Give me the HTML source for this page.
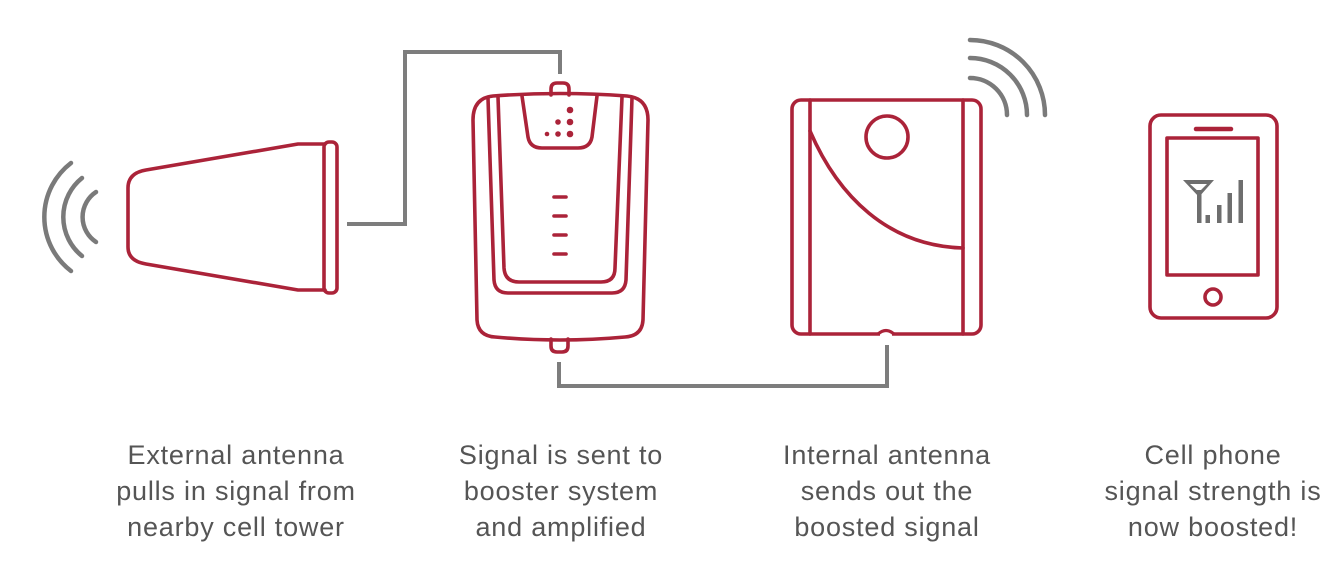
<!DOCTYPE html>
<html>
<head>
<meta charset="utf-8">
<style>
  html, body { margin: 0; padding: 0; background: #ffffff; }
  body { width: 1344px; height: 566px; overflow: hidden; }
  svg { display: block; }
  text { font-family: "Liberation Sans", Arial, sans-serif; font-size: 27px; fill: #555555; letter-spacing: 0.8px; }
</style>
</head>
<body>
<svg width="1344" height="566" viewBox="0 0 1344 566" xmlns="http://www.w3.org/2000/svg">
  <rect x="0" y="0" width="1344" height="566" fill="#ffffff"/>

  <!-- Gray connector wires -->
  <g fill="none" stroke="#7d7d7d" stroke-width="4" stroke-linejoin="miter">
    <polyline points="347,224 405,224 405,52 560,52 560,74"/>
    <polyline points="559,362 559,386 887,386 887,345"/>
  </g>

  <!-- Left signal arcs -->
  <g fill="none" stroke="#7a7a7a" stroke-width="4.5" stroke-linecap="round">
    <path d="M71 163 A68 68 0 0 0 71 271"/>
    <path d="M82 178 A50 50 0 0 0 82 256"/>
    <path d="M96 192 A30 30 0 0 0 96 242"/>
  </g>

  <!-- Right signal arcs -->
  <g fill="none" stroke="#7a7a7a" stroke-width="4.5" stroke-linecap="round">
    <path d="M970 40 A75 75 0 0 1 1045 115"/>
    <path d="M970 58 A57 57 0 0 1 1027 115"/>
    <path d="M970 78 A37 37 0 0 1 1007 115"/>
  </g>

  <g fill="none" stroke="#ab2339" stroke-width="3.6" stroke-linecap="round" stroke-linejoin="round">
    <!-- External antenna cone -->
    <path d="M325 144 L298 144 L146 170 Q128 173 128 188 L128 247 Q128 261 146 264 L298 290 L325 290"/>
    <rect x="324" y="142" width="13" height="151" rx="5" ry="5"/>

    <!-- Booster body -->
    <path d="M493 96 Q560 91 627 96 Q648 98 648 120 L643 320 Q642 336 625 337 Q560 343 495 337 Q478 336 477 320 L473 120 Q473 98 493 96 Z"/>
    <!-- top tab -->
    <path d="M551 95 L551 89 Q551 83 557 83 L563 83 Q569 83 569 89 L569 95"/>
    <!-- bottom tab -->
    <path d="M551 339 L551 346 Q551 352 557 352 L562 352 Q568 352 568 346 L568 339"/>
    <!-- outer U -->
    <path d="M488 98 L494 280 Q495 293 508 293 L612 293 Q625 293 626 280 L632 98"/>
    <!-- inner U -->
    <path d="M498 97 L504 268 Q505 282 519 282 L601 282 Q615 282 615 268 L622 97"/>
    <!-- top panel -->
    <path d="M522 96 L528 137 Q530 148 542 148 L578 148 Q590 148 592 137 L597 96"/>
    <!-- dashes -->
    <line x1="554" y1="197" x2="566" y2="197"/>
    <line x1="554" y1="216" x2="566" y2="216"/>
    <line x1="554" y1="235" x2="566" y2="235"/>
    <line x1="554" y1="254" x2="566" y2="254"/>

    <!-- Internal antenna -->
    <rect x="792" y="100" width="189" height="234" rx="9" ry="9"/>
    <line x1="810" y1="100" x2="810" y2="334"/>
    <line x1="963" y1="100" x2="963" y2="334"/>
    <circle cx="887" cy="137" r="21"/>
    <path d="M810 131 C838 196 888 246 963 248"/>

    <!-- Phone -->
    <rect x="1150" y="115" width="127" height="203" rx="11" ry="11"/>
    <rect x="1167" y="138" width="91" height="137"/>
    <circle cx="1213" cy="297" r="8"/>
  </g>
  <!-- notch on internal antenna bottom -->
  <line x1="880" y1="334" x2="892" y2="334" stroke="#ffffff" stroke-width="5"/>
  <path d="M878 334 Q886 327 894 334" fill="none" stroke="#ab2339" stroke-width="3.2"/>

  <!-- booster dots -->
  <g fill="#ab2339">
    <circle cx="570" cy="110" r="3.3"/>
    <circle cx="570" cy="122" r="3.3"/>
    <circle cx="570" cy="134" r="3.3"/>
    <circle cx="558" cy="122" r="2.8"/>
    <circle cx="558" cy="134" r="2.8"/>
    <circle cx="547" cy="134" r="2.3"/>
  </g>

  <!-- phone speaker -->
  <line x1="1196" y1="129" x2="1231" y2="129" stroke="#ab2339" stroke-width="4.5" stroke-linecap="round"/>

  <!-- signal icon -->
  <g fill="#6e6e6e" stroke="none">
    <path d="M1183 180 L1214 180 L1199 197 Z M1190 184 L1207 184 L1199 192 Z" fill-rule="evenodd"/>
    <rect x="1197" y="190" width="4.5" height="33"/>
    <rect x="1205.5" y="215" width="4.5" height="8"/>
    <rect x="1217" y="205" width="4.5" height="18"/>
    <rect x="1227.5" y="193" width="4.5" height="30"/>
    <rect x="1238.5" y="180" width="4.5" height="43"/>
  </g>

  <!-- Captions -->
  <g text-anchor="middle">
    <text x="236" y="464">External antenna</text>
    <text x="236" y="500">pulls in signal from</text>
    <text x="236" y="536">nearby cell tower</text>

    <text x="561" y="464">Signal is sent to</text>
    <text x="561" y="500">booster system</text>
    <text x="561" y="536">and amplified</text>

    <text x="887" y="464">Internal antenna</text>
    <text x="887" y="500">sends out the</text>
    <text x="887" y="536">boosted signal</text>

    <text x="1213" y="464">Cell phone</text>
    <text x="1213" y="500">signal strength is</text>
    <text x="1213" y="536">now boosted!</text>
  </g>
</svg>
</body>
</html>
